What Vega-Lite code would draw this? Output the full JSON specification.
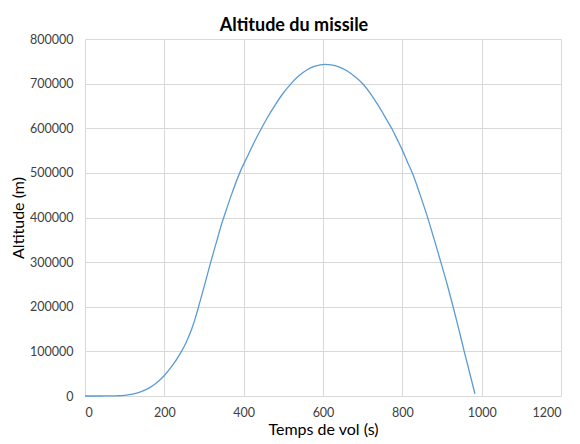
{
  "$schema": "https://vega.github.io/schema/vega-lite/v6.json",
  "autosize": "none",
  "width": 476,
  "height": 357,
  "padding": {"left": 85, "top": 39, "right": 19, "bottom": 48},
  "background": "white",
  "title": {
    "text": "Altitude du missile",
    "font": "Lato",
    "fontSize": 18,
    "fontWeight": "bold",
    "color": "#000000",
    "anchor": "middle",
    "offset": 4,
    "dx": -29,
    "dy": 6
  },
  "config": {
    "view": {"stroke": null},
    "axis": {
      "labelFont": "Lato",
      "labelFontSize": 12.5,
      "labelColor": "#404040",
      "titleFont": "Lato",
      "titleFontSize": 16,
      "titleFontWeight": "normal",
      "titleColor": "#000000",
      "gridColor": "#d9d9d9",
      "gridWidth": 1,
      "domain": false,
      "ticks": false,
      "tickSize": 0
    }
  },
  "data": {
    "values": [
      {"t": 0, "alt": 0}, {"t": 20, "alt": 0}, {"t": 40, "alt": 30}, {"t": 60, "alt": 150},
      {"t": 80, "alt": 500}, {"t": 100, "alt": 1500}, {"t": 120, "alt": 4000}, {"t": 140, "alt": 9000},
      {"t": 160, "alt": 17000}, {"t": 180, "alt": 29000}, {"t": 200, "alt": 46000}, {"t": 220, "alt": 68000},
      {"t": 240, "alt": 95000}, {"t": 255, "alt": 120000}, {"t": 269, "alt": 150000}, {"t": 280, "alt": 180000},
      {"t": 290, "alt": 212000}, {"t": 300, "alt": 244000}, {"t": 317, "alt": 300000}, {"t": 333, "alt": 350000},
      {"t": 345, "alt": 387000}, {"t": 355, "alt": 414000}, {"t": 370, "alt": 453000}, {"t": 390, "alt": 500000},
      {"t": 410, "alt": 538000}, {"t": 425, "alt": 566000}, {"t": 445, "alt": 600000}, {"t": 460, "alt": 624000},
      {"t": 480, "alt": 653000}, {"t": 500, "alt": 679000}, {"t": 519, "alt": 699500}, {"t": 540, "alt": 718000},
      {"t": 560, "alt": 731000}, {"t": 580, "alt": 739000}, {"t": 606, "alt": 743000}, {"t": 620, "alt": 742000},
      {"t": 640, "alt": 737500}, {"t": 660, "alt": 729000}, {"t": 680, "alt": 716000}, {"t": 702, "alt": 698000},
      {"t": 720, "alt": 677000}, {"t": 740, "alt": 650000}, {"t": 760, "alt": 620000}, {"t": 773, "alt": 600000},
      {"t": 787, "alt": 575000}, {"t": 800, "alt": 551000}, {"t": 813, "alt": 524000}, {"t": 826, "alt": 498000},
      {"t": 844, "alt": 453000}, {"t": 863, "alt": 402000}, {"t": 880, "alt": 352000}, {"t": 897, "alt": 300000},
      {"t": 914, "alt": 247000}, {"t": 928, "alt": 200000}, {"t": 942, "alt": 151000}, {"t": 956, "alt": 100000},
      {"t": 970, "alt": 51000}, {"t": 983, "alt": 5000}
    ]
  },
  "mark": {"type": "line", "color": "#5b9bd5", "strokeWidth": 1.3, "interpolate": "monotone"},
  "encoding": {
    "x": {
      "field": "t",
      "type": "quantitative",
      "scale": {"domain": [0, 1200], "nice": false},
      "axis": {
        "title": "Temps de vol (s)",
        "values": [0, 200, 400, 600, 800, 1000, 1200],
        "format": "d",
        "labelPadding": 10,
        "titlePadding": 3
      }
    },
    "y": {
      "field": "alt",
      "type": "quantitative",
      "scale": {"domain": [0, 800000], "nice": false},
      "axis": {
        "title": "Altitude (m)",
        "values": [0, 100000, 200000, 300000, 400000, 500000, 600000, 700000, 800000],
        "format": "d",
        "labelPadding": 12,
        "titlePadding": 3
      }
    }
  }
}
